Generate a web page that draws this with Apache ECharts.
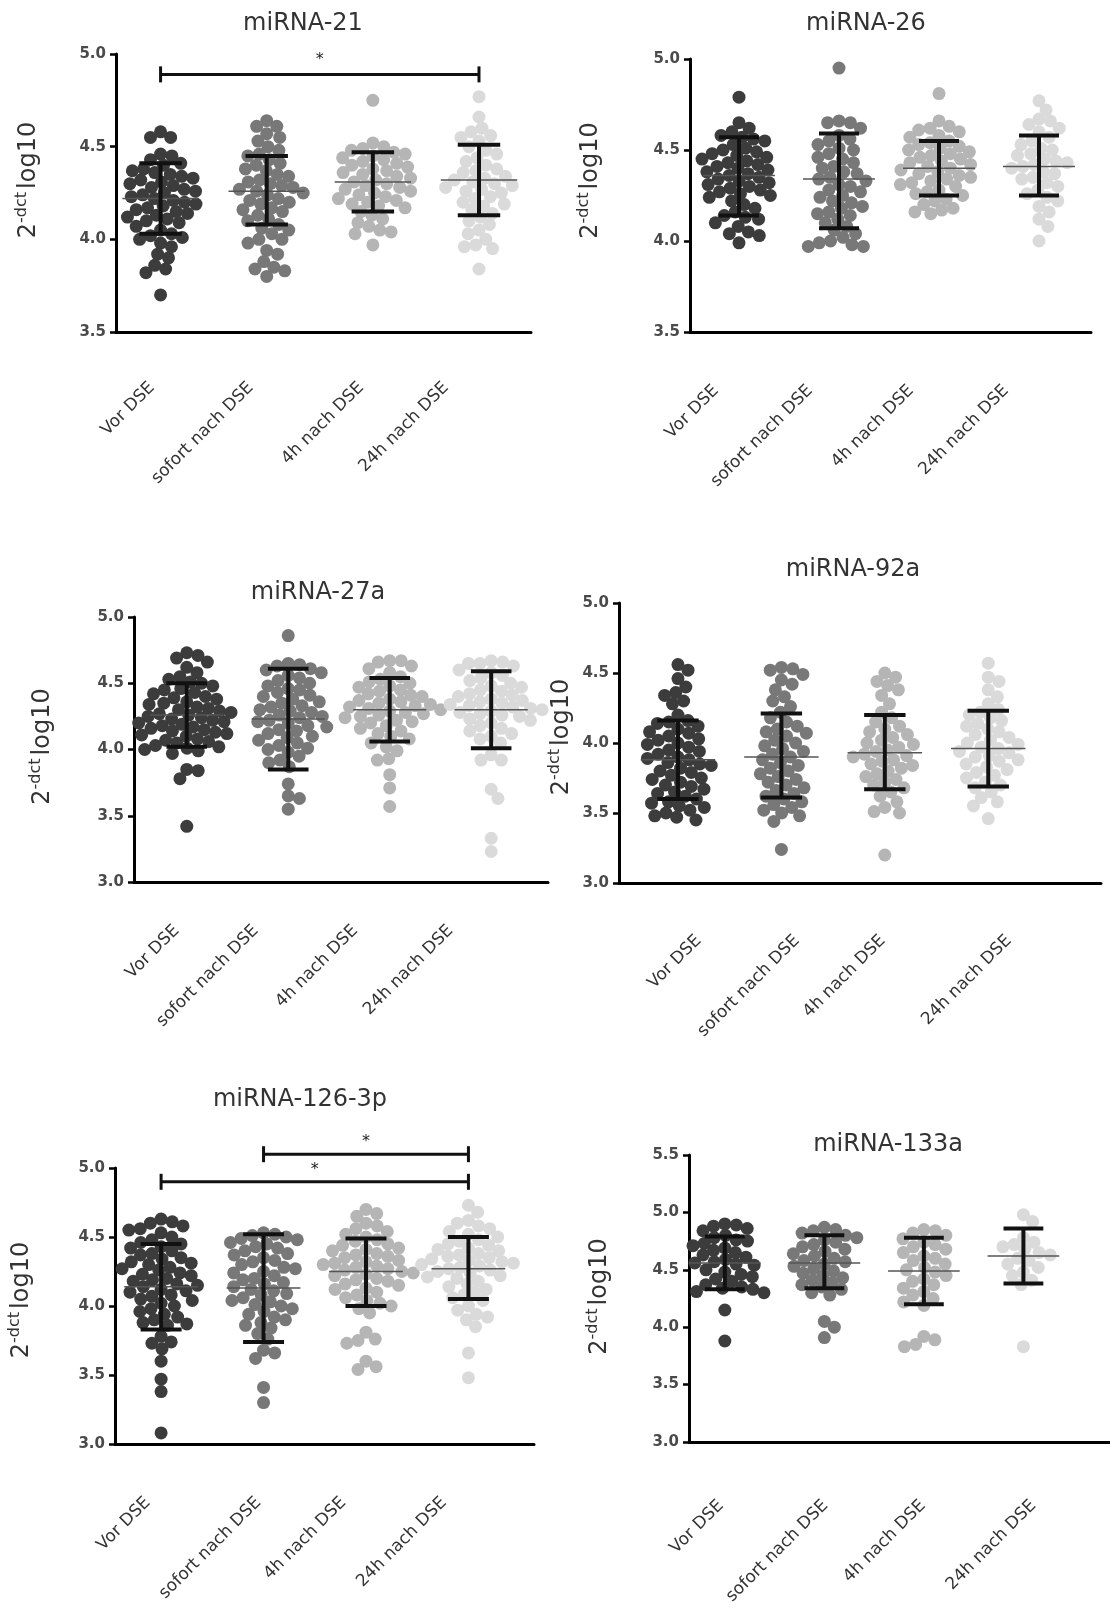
<!DOCTYPE html>
<html>
<head>
<meta charset="utf-8">
<script src="https://cdn.jsdelivr.net/npm/echarts@6/dist/echarts.min.js"></script>
<style>
  html, body { margin: 0; padding: 0; background: #fff; }
  #main { width: 1110px; height: 1610px; }
</style>
</head>
<body>
<div id="main"></div>
<script>
// Gruppen (x-Achse)
var categories = ['Vor DSE', 'sofort nach DSE', '4h nach DSE', '24h nach DSE'];
var titles = ['miRNA-21', 'miRNA-26', 'miRNA-27a', 'miRNA-92a', 'miRNA-126-3p', 'miRNA-133a'];

// miRNA-21 Einzelwerte
var mir21Vor = [4.58,4.55,4.55,4.46,4.45,4.43,4.41,4.40,4.38,4.37,4.36,4.35,4.34,4.33,4.32,4.31,4.30,4.29,4.28,4.27,4.26,4.25,4.24,4.23,4.22,4.21,4.20,4.19,4.18,4.17,4.16,4.15,4.14,4.13,4.12,4.11,4.10,4.09,4.07,4.05,4.03,4.02,4.01,4.00,3.98,3.96,3.92,3.90,3.86,3.84,3.82,3.70];
var mir21Sofort = [4.64,4.61,4.61,4.57,4.55,4.53,4.50,4.48,4.46,4.45,4.43,4.41,4.40,4.38,4.37,4.35,4.34,4.32,4.31,4.30,4.29,4.28,4.27,4.26,4.25,4.24,4.22,4.21,4.20,4.19,4.17,4.16,4.15,4.13,4.11,4.10,4.08,4.06,4.05,4.03,4.00,4.00,3.98,3.94,3.92,3.88,3.85,3.84,3.83,3.80];
var mir21H4 = [4.75,4.52,4.50,4.49,4.48,4.47,4.46,4.45,4.44,4.43,4.42,4.41,4.40,4.39,4.38,4.37,4.36,4.35,4.34,4.33,4.32,4.31,4.30,4.29,4.28,4.27,4.26,4.25,4.24,4.23,4.22,4.21,4.20,4.19,4.18,4.17,4.15,4.13,4.11,4.09,4.07,4.05,4.04,4.03,3.97];
var mir21H24 = [4.77,4.66,4.60,4.58,4.56,4.55,4.53,4.50,4.48,4.46,4.44,4.42,4.40,4.38,4.37,4.36,4.34,4.33,4.32,4.31,4.30,4.29,4.28,4.27,4.26,4.25,4.23,4.22,4.20,4.19,4.18,4.16,4.14,4.12,4.10,4.08,4.05,4.03,4.00,3.97,3.96,3.95,3.84];
var mir21Mean = [4.22, 4.26, 4.31, 4.32];
var mir21Low = [4.03, 4.08, 4.15, 4.13];
var mir21High = [4.41, 4.45, 4.47, 4.51];

// miRNA-26
var mir26Vor = [4.79,4.65,4.62,4.60,4.58,4.57,4.56,4.55,4.53,4.51,4.50,4.49,4.48,4.47,4.46,4.45,4.44,4.43,4.42,4.41,4.40,4.39,4.38,4.37,4.36,4.35,4.34,4.33,4.32,4.31,4.30,4.29,4.28,4.27,4.26,4.25,4.24,4.22,4.20,4.18,4.16,4.14,4.13,4.12,4.10,4.08,4.05,4.04,4.03,3.99];
var mir26Sofort = [4.95,4.66,4.65,4.65,4.62,4.58,4.56,4.55,4.53,4.51,4.50,4.48,4.46,4.45,4.43,4.41,4.40,4.38,4.37,4.35,4.34,4.33,4.31,4.30,4.28,4.27,4.25,4.24,4.22,4.21,4.19,4.18,4.16,4.15,4.14,4.12,4.10,4.08,4.06,4.04,4.02,4.00,3.99,3.98,3.97,3.97];
var mir26H4 = [4.81,4.66,4.63,4.62,4.61,4.60,4.58,4.57,4.55,4.54,4.53,4.52,4.51,4.50,4.49,4.48,4.47,4.46,4.45,4.44,4.43,4.42,4.41,4.40,4.39,4.38,4.37,4.36,4.35,4.34,4.33,4.32,4.31,4.30,4.28,4.27,4.26,4.25,4.23,4.22,4.20,4.18,4.17,4.16,4.15];
var mir26H24 = [4.77,4.72,4.67,4.66,4.64,4.62,4.60,4.57,4.55,4.53,4.51,4.50,4.48,4.47,4.45,4.44,4.43,4.42,4.41,4.40,4.38,4.37,4.35,4.34,4.32,4.30,4.28,4.26,4.24,4.22,4.19,4.16,4.12,4.08,4.00];
var mir26Mean = [4.36, 4.34, 4.40, 4.41];
var mir26Low = [4.14, 4.07, 4.25, 4.25];
var mir26High = [4.57, 4.59, 4.55, 4.58];

// miRNA-27a
var mir27aVor = [4.73,4.71,4.69,4.66,4.62,4.58,4.55,4.53,4.51,4.50,4.48,4.46,4.45,4.43,4.42,4.40,4.39,4.38,4.36,4.35,4.34,4.32,4.31,4.30,4.29,4.28,4.27,4.26,4.25,4.24,4.23,4.22,4.21,4.20,4.19,4.18,4.17,4.16,4.15,4.14,4.13,4.12,4.11,4.10,4.08,4.07,4.06,4.05,4.03,4.02,4.01,4.00,3.99,3.97,3.85,3.84,3.78,3.42];
var mir27aSofort = [4.86,4.65,4.64,4.63,4.61,4.60,4.58,4.56,4.54,4.52,4.50,4.48,4.46,4.45,4.43,4.41,4.40,4.38,4.36,4.35,4.33,4.32,4.30,4.29,4.28,4.26,4.25,4.24,4.22,4.21,4.20,4.18,4.17,4.15,4.14,4.12,4.10,4.09,4.07,4.05,4.03,4.01,4.00,3.98,3.95,3.92,3.90,3.87,3.74,3.65,3.63,3.55];
var mir27aH4 = [4.67,4.67,4.66,4.63,4.61,4.58,4.55,4.53,4.51,4.50,4.48,4.47,4.45,4.44,4.42,4.41,4.40,4.38,4.37,4.36,4.35,4.34,4.33,4.32,4.31,4.30,4.29,4.28,4.27,4.26,4.25,4.24,4.22,4.21,4.20,4.18,4.16,4.14,4.12,4.10,4.08,4.05,4.02,3.99,3.93,3.92,3.81,3.71,3.57];
var mir27aH24 = [4.67,4.66,4.65,4.65,4.63,4.60,4.58,4.56,4.54,4.52,4.50,4.48,4.47,4.45,4.44,4.42,4.41,4.40,4.38,4.37,4.36,4.35,4.34,4.33,4.32,4.31,4.30,4.29,4.28,4.27,4.26,4.25,4.23,4.22,4.20,4.18,4.16,4.14,4.12,4.10,4.08,4.05,3.96,3.92,3.92,3.70,3.63,3.33,3.23];
var mir27aMean = [4.26, 4.23, 4.30, 4.30];
var mir27aLow = [4.02, 3.85, 4.06, 4.01];
var mir27aHigh = [4.50, 4.61, 4.54, 4.59];

// miRNA-92a
var mir92aVor = [4.56,4.52,4.46,4.40,4.36,4.34,4.30,4.28,4.20,4.16,4.15,4.14,4.12,4.10,4.08,4.07,4.05,4.03,4.02,4.00,3.99,3.97,3.95,3.94,3.92,3.90,3.89,3.88,3.86,3.85,3.84,3.82,3.80,3.79,3.77,3.75,3.74,3.72,3.70,3.69,3.67,3.65,3.64,3.62,3.60,3.58,3.57,3.55,3.54,3.52,3.50,3.48,3.47,3.45];
var mir92aSofort = [4.54,4.53,4.52,4.49,4.45,4.42,4.38,4.33,4.30,4.26,4.22,4.18,4.15,4.12,4.10,4.08,4.07,4.05,4.02,4.00,3.98,3.96,3.94,3.92,3.90,3.88,3.86,3.84,3.82,3.80,3.78,3.76,3.74,3.72,3.70,3.68,3.66,3.64,3.62,3.60,3.58,3.56,3.54,3.52,3.50,3.48,3.44,3.24];
var mir92aH4 = [4.50,4.47,4.44,4.41,4.38,4.34,4.28,4.22,4.18,4.15,4.12,4.10,4.08,4.06,4.04,4.02,4.00,3.99,3.97,3.95,3.94,3.92,3.91,3.90,3.88,3.87,3.85,3.84,3.82,3.80,3.78,3.76,3.74,3.72,3.70,3.68,3.65,3.62,3.58,3.54,3.51,3.50,3.20];
var mir92aH24 = [4.57,4.47,4.44,4.38,4.33,4.28,4.24,4.22,4.20,4.18,4.16,4.14,4.12,4.10,4.08,4.06,4.04,4.02,4.00,3.99,3.97,3.96,3.94,3.93,3.91,3.90,3.88,3.87,3.85,3.83,3.81,3.79,3.77,3.75,3.72,3.70,3.68,3.65,3.61,3.58,3.55,3.46];
var mir92aMean = [3.88, 3.90, 3.93, 3.96];
var mir92aLow = [3.60, 3.61, 3.67, 3.69];
var mir92aHigh = [4.16, 4.21, 4.20, 4.23];

// miRNA-126-3p
var mir126Vor = [4.63,4.61,4.60,4.58,4.56,4.55,4.53,4.50,4.48,4.46,4.45,4.43,4.42,4.40,4.38,4.37,4.35,4.34,4.32,4.31,4.30,4.28,4.27,4.26,4.24,4.23,4.22,4.20,4.19,4.18,4.16,4.15,4.14,4.12,4.11,4.10,4.08,4.07,4.05,4.04,4.02,4.00,3.98,3.96,3.94,3.92,3.90,3.88,3.87,3.86,3.78,3.74,3.73,3.69,3.60,3.47,3.38,3.08];
var mir126Sofort = [4.53,4.52,4.51,4.50,4.49,4.48,4.46,4.45,4.43,4.42,4.40,4.38,4.37,4.35,4.33,4.32,4.30,4.28,4.27,4.25,4.24,4.22,4.20,4.19,4.17,4.16,4.14,4.12,4.11,4.09,4.08,4.06,4.04,4.03,4.01,4.00,3.98,3.96,3.94,3.92,3.90,3.88,3.86,3.84,3.80,3.76,3.68,3.66,3.62,3.41,3.30];
var mir126H4 = [4.70,4.67,4.65,4.60,4.58,4.56,4.54,4.52,4.50,4.48,4.47,4.45,4.44,4.42,4.41,4.40,4.38,4.37,4.36,4.35,4.33,4.32,4.31,4.30,4.29,4.28,4.27,4.26,4.25,4.24,4.23,4.22,4.20,4.19,4.18,4.16,4.15,4.13,4.12,4.10,4.08,4.06,4.04,4.02,4.00,3.98,3.95,3.81,3.76,3.75,3.73,3.60,3.56,3.54];
var mir126H24 = [4.73,4.68,4.62,4.60,4.58,4.56,4.54,4.52,4.50,4.48,4.47,4.45,4.44,4.42,4.41,4.40,4.38,4.37,4.36,4.35,4.34,4.33,4.32,4.31,4.30,4.29,4.28,4.27,4.26,4.25,4.24,4.22,4.21,4.20,4.18,4.16,4.14,4.12,4.10,4.08,4.06,4.04,4.00,3.97,3.94,3.92,3.90,3.85,3.66,3.48];
var mir126Mean = [4.14, 4.13, 4.25, 4.27];
var mir126Low = [3.83, 3.74, 4.00, 4.05];
var mir126High = [4.45, 4.52, 4.49, 4.50];

// miRNA-133a
var mir133aVor = [4.90,4.89,4.88,4.86,4.84,4.80,4.78,4.76,4.75,4.73,4.71,4.69,4.67,4.65,4.63,4.61,4.59,4.57,4.56,4.55,4.54,4.52,4.50,4.48,4.46,4.44,4.42,4.40,4.37,4.35,4.34,4.33,4.31,4.30,4.15,3.88];
var mir133aSofort = [4.87,4.85,4.84,4.82,4.80,4.78,4.76,4.74,4.72,4.70,4.68,4.66,4.64,4.62,4.60,4.58,4.57,4.55,4.53,4.51,4.49,4.47,4.45,4.43,4.41,4.39,4.37,4.35,4.33,4.30,4.28,4.05,4.00,3.91];
var mir133aH4 = [4.85,4.84,4.82,4.80,4.77,4.74,4.72,4.70,4.68,4.65,4.62,4.60,4.58,4.55,4.52,4.50,4.48,4.45,4.42,4.40,4.37,4.34,4.31,4.28,4.25,4.22,4.19,3.92,3.89,3.85,3.83];
var mir133aH24 = [4.98,4.92,4.78,4.74,4.72,4.70,4.68,4.65,4.63,4.60,4.58,4.55,4.52,4.48,4.45,4.41,4.37,3.83];
var mir133aMean = [4.56, 4.56, 4.49, 4.62];
var mir133aLow = [4.33, 4.34, 4.20, 4.38];
var mir133aHigh = [4.79, 4.80, 4.78, 4.86];

// Signifikanzbalken: [von, bis, Hoehe, Stern-Hoehe]
var sig21 = [[0, 3, 4.89, 4.97]];
var sig126 = [[1, 3, 5.10, 5.19], [0, 3, 4.90, 4.99]];

// y-Achsen
var yMins = [3.5, 3.5, 3.0, 3.0, 3.0, 3.0];
var yMaxs = [5.0, 5.0, 5.0, 5.0, 5.0, 5.5];

var panelData = [
    { pts: [mir21Vor, mir21Sofort, mir21H4, mir21H24], mean: mir21Mean, low: mir21Low, high: mir21High, sig: sig21 },
    { pts: [mir26Vor, mir26Sofort, mir26H4, mir26H24], mean: mir26Mean, low: mir26Low, high: mir26High, sig: [] },
    { pts: [mir27aVor, mir27aSofort, mir27aH4, mir27aH24], mean: mir27aMean, low: mir27aLow, high: mir27aHigh, sig: [] },
    { pts: [mir92aVor, mir92aSofort, mir92aH4, mir92aH24], mean: mir92aMean, low: mir92aLow, high: mir92aHigh, sig: [] },
    { pts: [mir126Vor, mir126Sofort, mir126H4, mir126H24], mean: mir126Mean, low: mir126Low, high: mir126High, sig: sig126 },
    { pts: [mir133aVor, mir133aSofort, mir133aH4, mir133aH24], mean: mir133aMean, low: mir133aLow, high: mir133aHigh, sig: [] }
];

// Layout der sechs Teilgrafiken (Pixel); lab = Lage der schraegen Beschriftungen
var layout = [
    { left: 116, top: 54, width: 415, height: 278, xMin: -0.42, xMax: 3.49, tx: 298, ty: 7, gap: 72, up: 26, lm: 53, lab: [-0.08, 0.85, 1.89, 2.69] },
    { left: 690, top: 59, width: 401, height: 273, xMin: -0.49, xMax: 3.52, tx: 861, ty: 7, gap: 84, up: 30, lm: 56, lab: [-0.23, 0.71, 1.72, 2.67] },
    { left: 134, top: 617, width: 414, height: 265, xMin: -0.52, xMax: 3.56, tx: 313, ty: 576, gap: 76, up: 6, lm: 46, lab: [-0.10, 0.68, 1.66, 2.60] },
    { left: 619, top: 603, width: 482, height: 280, xMin: -0.57, xMax: 4.09, tx: 848, ty: 553, gap: 42, up: 12, lm: 55, lab: [0.20, 1.15, 1.98, 3.20] },
    { left: 115, top: 1168, width: 419, height: 276, xMin: -0.45, xMax: 3.64, tx: 295, ty: 1083, gap: 78, up: 12, lm: 56, lab: [-0.13, 0.95, 1.78, 2.76] },
    { left: 689, top: 1155, width: 421, height: 287, xMin: -0.36, xMax: 3.87, tx: 883, ty: 1128, gap: 74, up: 4, lm: 61, lab: [-0.04, 1.01, 1.99, 3.10] }
];

var dotColors = ['#3c3c3c', '#787878', '#b5b5b5', '#dadada'];
var font = 'DejaVu Sans, Liberation Sans, sans-serif';
var DOT = 13;

// einfache Beeswarm-Anordnung in Pixeln, zurueck in Datenwerte umgerechnet
function swarm(values, pxX, pxY, d) {
    var sorted = values.slice().sort(function (a, b) { return b - a; });
    var placed = [];
    var out = [];
    sorted.forEach(function (v) {
        var y = v * pxY;
        var cands = [0];
        placed.forEach(function (p) {
            var dy = Math.abs(p[1] - y);
            if (dy < d) {
                var dx = Math.sqrt(d * d - dy * dy);
                cands.push(p[0] + dx, p[0] - dx);
            }
        });
        cands.sort(function (a, b) { return Math.abs(a) - Math.abs(b); });
        var x = 0;
        for (var i = 0; i < cands.length; i++) {
            var c = cands[i];
            var ok = placed.every(function (p) {
                var ddx = p[0] - c, ddy = p[1] - y;
                return ddx * ddx + ddy * ddy >= d * d - 0.01;
            });
            if (ok) { x = c; break; }
        }
        placed.push([x, y]);
        out.push([x / pxX, v]);
    });
    return out;
}

var grids = [], xAxes = [], yAxes = [], series = [], titleList = [];

layout.forEach(function (L, i) {
    var P = panelData[i];
    grids.push({ left: L.left, top: L.top, width: L.width, height: L.height });
    titleList.push({
        text: titles[i], left: L.tx, top: L.ty, textAlign: 'center',
        textStyle: { fontSize: 24, fontWeight: 'normal', color: '#333', fontFamily: font }
    });
    xAxes.push({
        type: 'value', gridIndex: i, min: L.xMin, max: L.xMax,
        axisLine: { onZero: false, lineStyle: { color: '#000', width: 3 } },
        axisTick: { show: false },
        splitLine: { show: false },
        axisLabel: {
            customValues: L.lab,
            rotate: 45, margin: L.lm, fontSize: 17, color: '#333', fontFamily: font,
            formatter: function (v) {
                var k = 0;
                L.lab.forEach(function (p, j) { if (Math.abs(p - v) < Math.abs(L.lab[k] - v)) k = j; });
                return categories[k];
            }
        }
    });
    yAxes.push({
        type: 'value', gridIndex: i, min: yMins[i], max: yMaxs[i], interval: 0.5,
        name: '{a|2}{b|-dct}{a|log10}', nameLocation: 'middle', nameRotate: 90, nameGap: L.gap,
        nameTextStyle: {
            padding: [0, 0, 0, L.up],
            rich: {
                a: { fontSize: 24, color: '#333', fontFamily: font },
                b: { fontSize: 16, color: '#333', fontFamily: font, padding: [0, 3, 14, 0] }
            }
        },
        axisLine: { onZero: false, lineStyle: { color: '#000', width: 3 } },
        axisTick: { show: true, length: 6, lineStyle: { color: '#000', width: 2.5 } },
        splitLine: { show: false },
        axisLabel: {
            fontSize: 15, fontWeight: 'bold', color: '#4a4a4a', fontFamily: font, margin: 10,
            formatter: function (v) { return v.toFixed(1); }
        }
    });

    var pxX = L.width / (L.xMax - L.xMin);
    var pxY = L.height / (yMaxs[i] - yMins[i]);

    P.pts.forEach(function (vals, g) {
        var sw = swarm(vals, pxX, pxY, 11.5).map(function (p) { return [g + p[0], p[1]]; });
        series.push({
            type: 'scatter', xAxisIndex: i, yAxisIndex: i, data: sw,
            symbolSize: DOT, itemStyle: { color: dotColors[g], opacity: 1 },
            silent: true, z: 2
        });
    });

    // Mittelwert und Standardabweichung
    var stats = P.mean.map(function (m, g) { return [g, m, P.low[g], P.high[g]]; });
    series.push({
        type: 'custom', xAxisIndex: i, yAxisIndex: i, data: stats, z: 5, silent: true,
        renderItem: function (params, api) {
            var g = api.value(0);
            var m = api.coord([g, api.value(1)]);
            var lo = api.coord([g, api.value(2)]);
            var hi = api.coord([g, api.value(3)]);
            var mw = 0.36 * pxX, cw = 0.2 * pxX;
            var blk = { stroke: '#111', lineWidth: 4 };
            return {
                type: 'group',
                children: [
                    { type: 'line', shape: { x1: m[0] - mw, y1: m[1], x2: m[0] + mw, y2: m[1] }, style: { stroke: '#555', lineWidth: 1.5 } },
                    { type: 'line', shape: { x1: lo[0], y1: lo[1], x2: hi[0], y2: hi[1] }, style: blk },
                    { type: 'line', shape: { x1: lo[0] - cw, y1: lo[1], x2: lo[0] + cw, y2: lo[1] }, style: blk },
                    { type: 'line', shape: { x1: hi[0] - cw, y1: hi[1], x2: hi[0] + cw, y2: hi[1] }, style: blk }
                ]
            };
        }
    });

    if (P.sig.length) {
        series.push({
            type: 'custom', xAxisIndex: i, yAxisIndex: i, data: P.sig, z: 6, silent: true, clip: false,
            renderItem: function (params, api) {
                var a = api.coord([api.value(0), api.value(2)]);
                var b = api.coord([api.value(1), api.value(2)]);
                var s = api.coord([(api.value(0) + api.value(1)) / 2, api.value(3)]);
                var st = { stroke: '#111', lineWidth: 3 };
                return {
                    type: 'group',
                    children: [
                        { type: 'line', shape: { x1: a[0], y1: a[1], x2: b[0], y2: b[1] }, style: st },
                        { type: 'line', shape: { x1: a[0], y1: a[1] - 8, x2: a[0], y2: a[1] + 8 }, style: st },
                        { type: 'line', shape: { x1: b[0], y1: b[1] - 8, x2: b[0], y2: b[1] + 8 }, style: st },
                        { type: 'text', x: s[0], y: s[1], style: { text: '*', fontSize: 16, fill: '#222', align: 'center', verticalAlign: 'middle', fontFamily: font } }
                    ]
                };
            }
        });
    }
});

var chart = echarts.init(document.getElementById('main'));
chart.setOption({
    backgroundColor: '#fff',
    animation: false,
    title: titleList,
    grid: grids,
    xAxis: xAxes,
    yAxis: yAxes,
    series: series
});
</script>
</body>
</html>
